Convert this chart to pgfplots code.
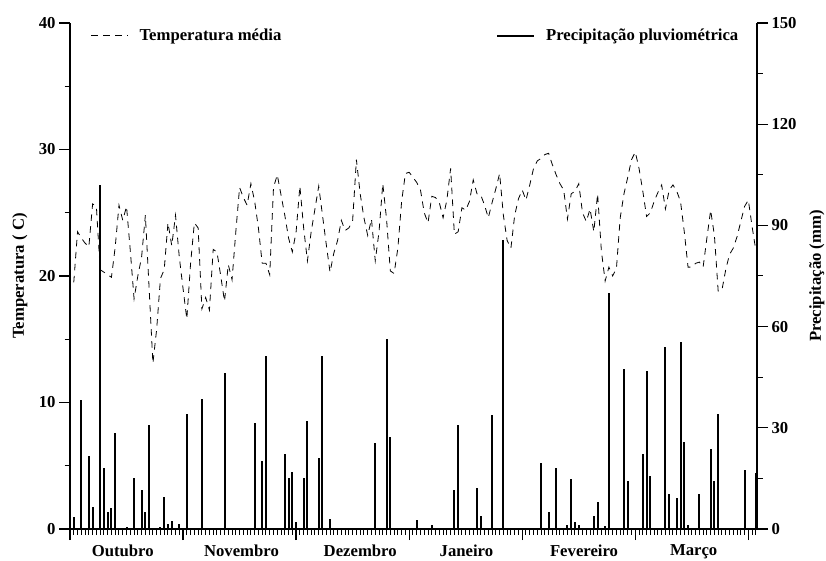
\documentclass[border=0pt]{standalone}
\usepackage{pgfplots}
\pgfplotsset{compat=1.18}
\usepackage{fontspec}
\setmainfont{Liberation Serif}

\newcommand\lbl{\fontsize{16.7bp}{20bp}\selectfont\bfseries}

% daily mean temperature (C), day 1 = 1 October
\pgfplotstableread{
d t
1 19.5
2 23.5
3 23.0
4 22.6
5 22.3
6 25.7
7 25.5
8 20.5
9 20.3
10 20.1
11 19.9
12 22.3
13 25.6
14 24.4
15 25.5
16 22.0
17 18.2
18 20.0
19 21.5
20 24.8
21 19.0
22 13.1
23 15.8
24 19.8
25 20.5
26 24.2
27 22.4
28 24.8
29 21.5
30 19.0
31 16.6
32 21.0
33 24.2
34 23.8
35 17.4
36 18.3
37 17.3
38 22.1
39 21.9
40 20.0
41 18.0
42 20.9
43 19.7
44 23.5
45 27.0
46 26.2
47 25.6
48 27.3
49 25.9
50 23.8
51 21.0
52 21.0
53 20.1
54 27.0
55 28.0
56 26.4
57 24.8
58 23.0
59 21.9
60 23.5
61 27.1
62 23.8
63 21.2
64 23.5
65 25.3
66 27.1
67 24.8
68 22.5
69 20.3
70 21.8
71 22.8
72 24.4
73 23.6
74 23.8
75 24.4
76 29.2
77 26.5
78 24.6
79 23.2
80 24.5
81 21.2
82 23.5
83 27.3
84 24.5
85 20.4
86 20.2
87 22.2
88 25.9
89 28.1
90 28.2
91 27.8
92 27.4
93 26.8
94 25.0
95 24.2
96 26.3
97 26.2
98 25.8
99 24.6
100 26.0
101 28.5
102 23.3
103 23.5
104 25.4
105 25.2
106 25.9
107 27.6
108 26.5
109 26.4
110 25.6
111 24.6
112 25.8
113 26.9
114 28.1
115 24.8
116 22.8
117 22.2
118 24.8
119 26.1
120 26.8
121 26.0
122 27.2
123 28.5
124 29.1
125 29.3
126 29.6
127 29.7
128 28.8
129 28.0
130 27.3
131 26.8
132 24.5
133 26.5
134 26.7
135 27.3
136 25.0
137 24.3
138 25.3
139 23.5
140 26.5
141 22.0
142 19.6
143 20.7
144 20.0
145 20.6
146 24.6
147 26.5
148 27.8
149 29.2
150 29.8
151 28.5
152 26.7
153 24.7
154 25.0
155 25.9
156 26.6
157 27.2
158 25.3
159 26.8
160 27.2
161 26.7
162 25.9
163 23.5
164 20.7
165 20.7
166 21.0
167 21.1
168 20.7
169 23.0
170 25.2
171 23.2
172 18.8
173 18.9
174 20.5
175 21.7
176 22.2
177 23.1
178 24.3
179 25.5
180 26.0
181 23.9
182 22.0
}\temperatura

% daily rainfall (mm), days without rain omitted
\pgfplotstableread{
d p
1 3.6
3 38.2
5 21.5
6 6.5
8 102.0
9 18.1
10 5.0
11 6.3
12 28.4
15 0.5
17 15.1
19 11.6
20 5.0
21 30.9
24 0.5
25 9.4
26 1.4
27 2.3
29 1.4
31 34.2
35 38.6
36 0.3
41 46.1
49 31.5
51 20.2
52 51.3
57 22.3
58 15.0
59 17.0
60 2.0
62 15.1
63 32.0
66 21.1
67 51.3
69 2.9
72 0.3
81 25.4
84 56.2
85 27.4
92 2.6
96 1.1
102 11.6
103 30.9
108 12.1
109 3.8
112 33.8
113 0.3
115 85.7
125 19.6
127 5.0
129 18.0
132 1.2
133 14.9
134 2.0
135 1.2
139 3.8
140 8.1
142 0.9
143 70.1
147 47.3
148 14.1
152 22.1
153 46.8
154 15.8
158 54.0
159 10.4
161 9.1
162 55.3
163 25.9
164 1.1
167 10.4
170 23.7
171 14.1
172 34.1
179 17.6
182 16.7
}\chuva

\begin{document}
\begin{tikzpicture}
\useasboundingbox (0,0) rectangle (826bp,561bp);
\pgfplotsset{
  common/.style={
    at={(70bp,32bp)}, anchor=south west,
    scale only axis, width=687bp, height=506bp,
    xmin=0, xmax=182.3,
    tick align=outside,
    /pgf/number format/assume math mode=true,
    tick label style={font=\lbl},
    label style={font=\lbl},
    axis line style={line width=1.6bp},
    major tick style={line width=1.3bp, black},
    minor tick style={line width=1bp, black},
    major tick length=11bp, minor tick length=5.5bp,
    legend style={draw=none, fill=none, font=\lbl, inner sep=0pt,
      /tikz/every odd column/.append style={column sep=9bp}},
    legend image code/.code={\draw[##1] (0bp,0bp) -- (37bp,0bp);},
  }
}
\begin{axis}[common,
  axis x line*=bottom, axis y line*=left,
  ymin=0, ymax=40, ytick={0,10,...,40}, minor ytick={5,15,25,35},
  xtick={0,30,...,180}, xticklabels={}, minor xtick={0,1,...,182},
  extra x ticks={14,45.5,77,105.2,136.4,165.5},
  extra x tick labels={Outubro,Novembro,Dezembro,Janeiro,Fevereiro,Março},
  extra x tick style={major tick length=0pt},
  xticklabel style={yshift=-12bp},
  ylabel={Temperatura ( C)},
  ylabel style={at={(axis description cs:-0.067,0.5)}, anchor=base},
  legend style={at={(axis description cs:0.03,0.975)}, anchor=west},
]
\addplot[black, line width=0.8bp, dash pattern=on 6.5bp off 5.5bp] table[x=d, y=t] {\temperatura};
\addlegendentry{Temperatura média}
\end{axis}
\begin{axis}[common,
  axis x line=none, axis y line*=right,
  ymin=0, ymax=150, ytick={0,30,...,150}, minor ytick={15,45,...,135},
  ylabel={Precipitação (mm)},
  ylabel style={at={(axis description cs:1.093,0.5)}, anchor=base},
  legend style={at={(axis description cs:0.976,0.975)}, anchor=east},
]
\addplot[ycomb, black, line width=2bp] table[x=d, y=p] {\chuva};
\addlegendentry{Precipitação pluviométrica}
\end{axis}
\end{tikzpicture}
\end{document}
